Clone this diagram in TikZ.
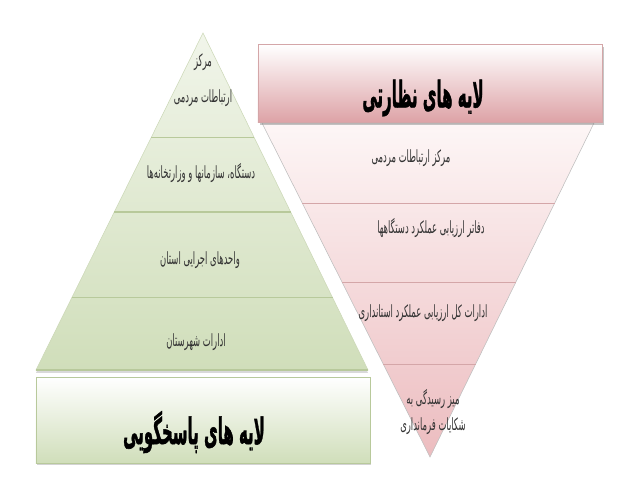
\documentclass[tikz,border=0pt]{standalone}
\usepackage{fontspec}
\usetikzlibrary{calc,shadows,positioning}
\newfontfamily\arabicfont[Script=Arabic]{DejaVu Sans}
\newfontfamily\arabicbold[Script=Arabic,FakeBold=1.6]{DejaVu Sans Bold}
\TeXXeTstate=1
\definecolor{greentop}{HTML}{F1F5EA}
\definecolor{greenbot}{HTML}{D0DEBA}
\definecolor{greenline}{HTML}{B8C99B}
\definecolor{pinktop}{HTML}{FDF6F6}
\definecolor{pinkbot}{HTML}{ECBCBF}
\definecolor{pinkline}{HTML}{D4A6A8}
\definecolor{pinkhead}{HTML}{DDA2A6}
\tikzset{
    bandtext/.style = {font=\arabicfont\fontsize{12}{24}\selectfont,
        xscale=0.5, text=black!80, align=center},
    headtext/.style = {font=\arabicbold\fontsize{26}{30}\selectfont,
        xscale=0.41, text=black},
    greenhead/.style = {draw=greenline, rectangle, top color=white,
        bottom color=greenbot, minimum width=8.35cm, minimum height=2.15cm,
        drop shadow={shadow xshift=1pt, shadow yshift=-1.5pt, opacity=0.35}},
    pinkhead/.style = {draw=pinkline, rectangle, top color=white,
        bottom color=pinkhead, minimum width=8.6cm, minimum height=1.95cm,
        drop shadow={shadow xshift=1.5pt, shadow yshift=-1.5pt, opacity=0.45}},
    greenband/.style = {draw=greenline, line width=0.8pt},
    pinkband/.style = {draw=pinkline, line width=0.6pt}
}
\newcommand{\fa}[1]{\beginR #1\endR}

\begin{document}
\begin{tikzpicture}[x=0.025cm, y=-0.025cm]
    \useasboundingbox (0,0) rectangle (640,480);
    \coordinate (gA) at (203,33);
    \coordinate (gL) at (36,370);
    \coordinate (gR) at (368,370);
    \coordinate (pA) at (430,457);
    \coordinate (pL) at (262,123);
    \coordinate (pR) at (594,123);
    \shade [top color=greentop, bottom color=greenbot, draw=greenline!70,
        drop shadow={shadow xshift=0pt, shadow yshift=-2pt, opacity=0.3}]
        (gA) -- (gR) -- (gL) -- cycle;
    \foreach \t in {0.309,0.531,0.786}
        \draw [greenband] ($(gA)!\t!(gL)$) -- ($(gA)!\t!(gR)$);
    \draw [greenline, line width=1.5pt] (gL) -- (gR);
    \shade [top color=pinktop, bottom color=pinkbot, draw=black!25]
        (pL) -- (pR) -- (pA) -- cycle;
    \foreach \t in {0.760,0.524,0.278}
        \draw [pinkband] ($(pA)!\t!(pL)$) -- ($(pA)!\t!(pR)$);
    \node [greenhead] (respbox) at (203,420) {};
    \node [pinkhead] (supbox) at (430,83.5) {};
    \node [headtext] (resptitle) at (194,432) {\fa{لایه های پاسخگویی}};
    \node [headtext] (suptitle) at (423,98) {\fa{لایه های نظارتی}};
    \node [bandtext] (g1) at (203,80) {\fa{مرکز}\\[2pt]\fa{ارتباطات مردمی}};
    \node [bandtext] (g2) at (201,173) {\fa{دستگاه، سازمانها و وزارتخانه‌ها}};
    \node [bandtext] (g3) at (200,260) {\fa{واحدهای اجرایی استان}};
    \node [bandtext] (g4) at (196,342) {\fa{ادارات شهرستان}};
    \node [bandtext] (p1) at (411,158) {\fa{مرکز ارتباطات مردمی}};
    \node [bandtext] (p2) at (431,228) {\fa{دفاتر ارزیابی عملکرد دستگاهها}};
    \node [bandtext] (p3) at (423,313) {\fa{ادارات کل ارزیابی عملکرد استانداری}};
    \node [bandtext, font=\arabicfont\fontsize{12}{19}\selectfont]
        (p4) at (433,412) {\fa{میز رسیدگی به}\\\fa{شکایات فرمانداری}};
\end{tikzpicture}
\end{document}
